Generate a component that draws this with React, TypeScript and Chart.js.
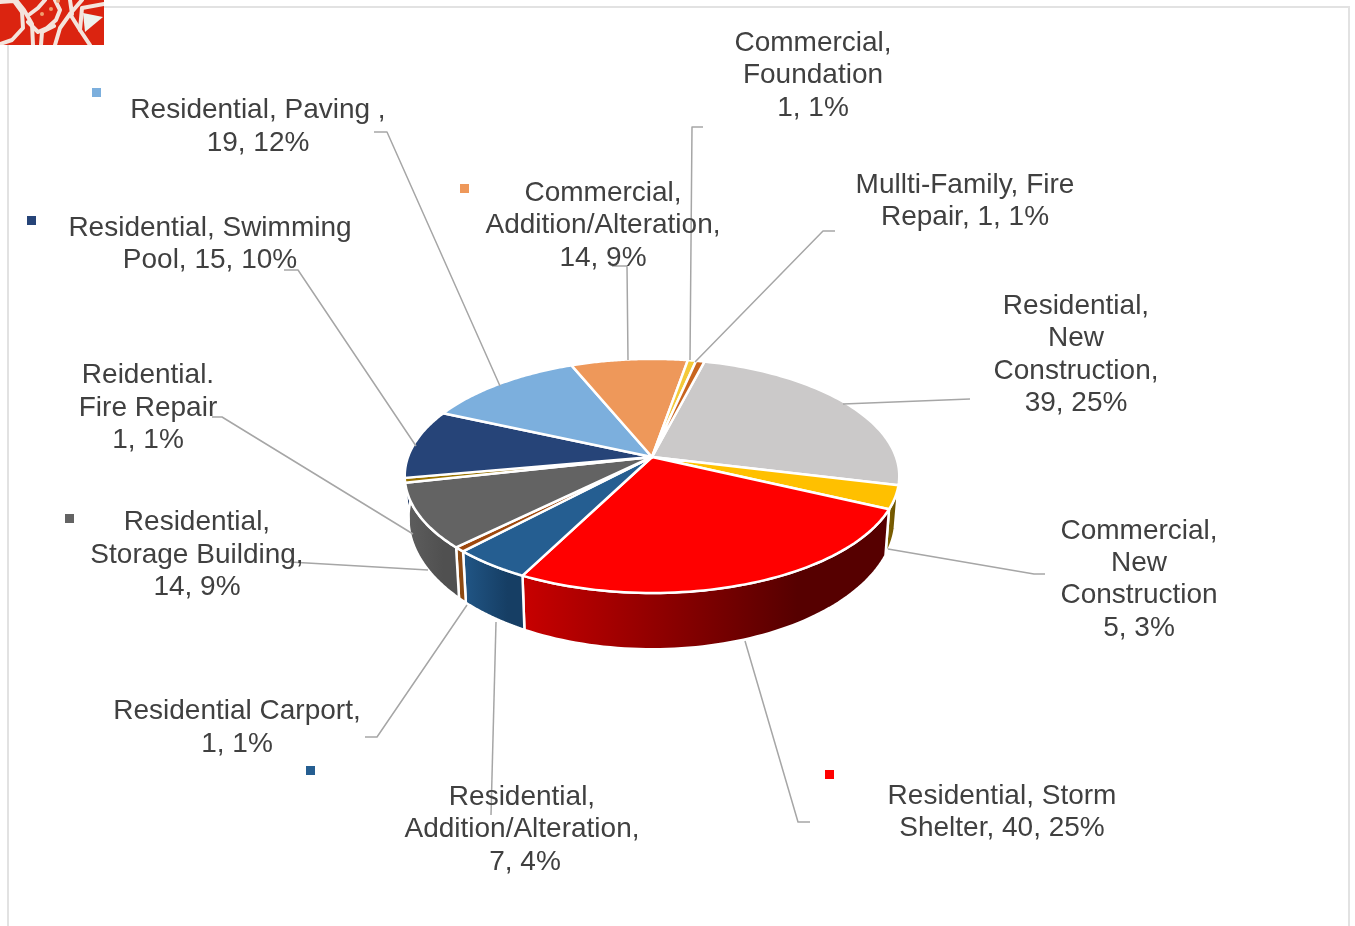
import React, { useEffect, useRef } from "react";
import { Chart, registerables } from "chart.js";

Chart.register(...registerables);

const categories = [
  "Residential, New Construction",
  "Commercial, New Construction",
  "Residential, Storm Shelter",
  "Residential, Addition/Alteration",
  "Residential Carport",
  "Residential, Storage Building",
  "Reidential. Fire Repair",
  "Residential, Swimming Pool",
  "Residential, Paving",
  "Commercial, Addition/Alteration",
  "Commercial, Foundation",
  "Mullti-Family, Fire Repair",
];
const values = [39, 5, 40, 7, 1, 14, 1, 15, 19, 14, 1, 1];
const topColors = ["#CBC9C9", "#FFC000", "#FF0000", "#255E91", "#9E480E", "#636363", "#997300", "#264478", "#7CAFDD", "#EE985A", "#F4C93A", "#C8641E"];
const wallFrom = ["#8a8888", "#7f6000", "#C80000", "#215686", "#8E4A12", "#5E5E5E", "#7f6000", "#1c3560", "#5c86ad", "#b07040", "#b09020", "#94481a"];
const wallTo = ["#8a8888", "#6a5200", "#560000", "#163E64", "#8E4A12", "#505050", "#7f6000", "#1c3560", "#5c86ad", "#b07040", "#b09020", "#94481a"];

type Label = { lines: string[]; cx: number; ys: number[]; leader: number[][]; marker?: number[]; lastCx?: number };
const labels: Label[] = [
  { lines: ["Residential,", "New", "Construction,", "39, 25%"], cx: 1076, ys: [304, 336, 369, 401], leader: [[970, 399], [843, 404]] },
  { lines: ["Commercial,", "New", "Construction", "5, 3%"], cx: 1139, ys: [529, 561, 593, 626], leader: [[1045, 574], [1034, 574], [888, 549]] },
  { lines: ["Residential, Storm", "Shelter, 40, 25%"], cx: 1002, ys: [794, 826], leader: [[810, 822], [798, 822], [745, 641]], marker: [825, 770] },
  { lines: ["Residential,", "Addition/Alteration,", "7, 4%"], cx: 522, lastCx: 525, ys: [795, 827, 860], leader: [[491, 815], [496, 622]], marker: [306, 766] },
  { lines: ["Residential Carport,", "1, 1%"], cx: 237, ys: [709, 742], leader: [[365, 737], [377, 737], [467, 605]] },
  { lines: ["Residential,", "Storage Building,", "14, 9%"], cx: 197, ys: [520, 553, 585], leader: [[290, 562], [428, 570]], marker: [65, 514] },
  { lines: ["Reidential.", "Fire Repair", "1, 1%"], cx: 148, ys: [373, 406, 438], leader: [[212, 417], [222, 417], [413, 534]] },
  { lines: ["Residential, Swimming", "Pool, 15, 10%"], cx: 210, ys: [226, 258], leader: [[284, 270], [298, 270], [416, 446]], marker: [27, 216] },
  { lines: ["Residential, Paving ,", "19, 12%"], cx: 258, ys: [108, 141], leader: [[374, 132], [387, 132], [500, 386]], marker: [92, 88] },
  { lines: ["Commercial,", "Addition/Alteration,", "14, 9%"], cx: 603, ys: [191, 223, 256], leader: [[612, 266], [627, 266], [628, 360]], marker: [460, 184] },
  { lines: ["Commercial,", "Foundation", "1, 1%"], cx: 813, ys: [41, 73, 106], leader: [[703, 127], [692, 127], [690, 360]] },
  { lines: ["Mullti-Family, Fire", "Repair, 1, 1%"], cx: 965, ys: [183, 215], leader: [[835, 231], [823, 231], [695, 362]] },
];

const PERSP = 0.162;
const TOP_Y = 0.467;
const BASE_DROP = 40;
const BASE_Y = 0.523;
const BASE_X = 0.985;
const TEXT_DY = 2;

function project(a: any, t: number, base: boolean) {
  const u = Math.cos(t);
  const v = Math.sin(t);
  const w = 1 - PERSP * v;
  const r = a.outerRadius;
  return {
    x: a.x + (r * u * (base ? BASE_X : 1)) / w,
    y: a.y + (base ? BASE_DROP : 0) + (r * (base ? BASE_Y : TOP_Y) * v) / w,
  };
}

function drawLogo(ctx: CanvasRenderingContext2D) {
  ctx.save();
  ctx.beginPath();
  ctx.rect(0, 0, 104, 45);
  ctx.clip();
  ctx.fillStyle = "#DB2410";
  ctx.fillRect(0, 0, 104, 45);
  ctx.strokeStyle = "#F4E4DC";
  ctx.lineCap = "round";
  ctx.lineJoin = "round";
  ctx.lineWidth = 4;
  const paths = [
    [[0, 2], [14, 1], [22, 12], [23, 28], [12, 40], [0, 44]],
    [[16, 0], [24, 10], [32, 24], [33, 45]],
    [[45, 0], [38, 8], [30, 14]],
    [[28, 22], [38, 32], [47, 28], [56, 20], [60, 10], [55, 0]],
    [[41, 45], [42, 32], [54, 26]],
    [[70, 14], [60, 28], [55, 45]],
    [[82, 0], [70, 14], [80, 30], [90, 45]],
    [[70, 0], [72, 14]],
    [[104, 4], [82, 8], [80, 30]],
  ];
  for (const p of paths) {
    ctx.beginPath();
    p.forEach(([x, y], i) => (i ? ctx.lineTo(x, y) : ctx.moveTo(x, y)));
    ctx.stroke();
  }
  ctx.fillStyle = "#EEF3EE";
  ctx.beginPath();
  ctx.moveTo(83, 13);
  ctx.lineTo(103, 17);
  ctx.lineTo(85, 32);
  ctx.closePath();
  ctx.fill();
  ctx.fillStyle = "#F0A070";
  [[58, 1], [42, 14], [51, 9]].forEach(([x, y]) => {
    ctx.beginPath();
    ctx.arc(x, y, 2, 0, Math.PI * 2);
    ctx.fill();
  });
  ctx.restore();
}

const pie3d = {
  id: "pie3d",
  beforeDatasetsDraw(chart: any) {
    const ctx: CanvasRenderingContext2D = chart.ctx;
    const arcs = chart.getDatasetMeta(0).data;
    const N = 64;

    ctx.save();
    // frame and logo
    ctx.strokeStyle = "#E2E2E2";
    ctx.lineWidth = 2;
    ctx.beginPath();
    ctx.moveTo(8, 926);
    ctx.lineTo(8, 7);
    ctx.lineTo(1349, 7);
    ctx.lineTo(1349, 926);
    ctx.stroke();
    drawLogo(ctx);

    // side walls, front half only
    arcs.forEach((a: any, i: number) => {
      const s = a.startAngle;
      const e = a.endAngle;
      const front = [];
      for (let k = 0; k <= N; k++) {
        const t = s + ((e - s) * k) / N;
        if (Math.sin(t) >= -0.03) front.push(t);
      }
      if (front.length < 2) return;
      const t0 = project(a, front[0], false);
      const t1 = project(a, front[front.length - 1], false);
      const grad = ctx.createLinearGradient(Math.min(t0.x, t1.x), 0, Math.max(t0.x, t1.x), 0);
      grad.addColorStop(0, wallFrom[i]);
      grad.addColorStop(0.75, wallTo[i]);
      grad.addColorStop(1, wallTo[i]);
      ctx.beginPath();
      front.forEach((t, k) => {
        const p = project(a, t, false);
        k ? ctx.lineTo(p.x, p.y) : ctx.moveTo(p.x, p.y);
      });
      [...front].reverse().forEach((t) => {
        const p = project(a, t, true);
        ctx.lineTo(p.x, p.y);
      });
      ctx.closePath();
      ctx.fillStyle = grad;
      ctx.strokeStyle = "#FFFFFF";
      ctx.lineWidth = 2.5;
      ctx.fill();
      ctx.stroke();
    });

    // top faces
    arcs.forEach((a: any) => {
      const s = a.startAngle;
      const e = a.endAngle;
      ctx.beginPath();
      ctx.moveTo(a.x, a.y);
      for (let k = 0; k <= N; k++) {
        const p = project(a, s + ((e - s) * k) / N, false);
        ctx.lineTo(p.x, p.y);
      }
      ctx.closePath();
      ctx.fillStyle = a.options.backgroundColor;
      ctx.strokeStyle = "#FFFFFF";
      ctx.lineWidth = 2.5;
      ctx.lineJoin = "round";
      ctx.fill();
      ctx.stroke();
    });

    // leader lines run over the pie's white edge, and under the text
    ctx.strokeStyle = "#A6A6A6";
    ctx.lineWidth = 1.5;
    labels.forEach((l) => {
      ctx.beginPath();
      l.leader.forEach(([x, y], i) => (i ? ctx.lineTo(x, y) : ctx.moveTo(x, y)));
      ctx.stroke();
    });

    // labels and markers
    ctx.fillStyle = "#404040";
    ctx.font = '28px "Liberation Sans"';
    ctx.textAlign = "center";
    ctx.textBaseline = "middle";
    labels.forEach((l) => {
      l.lines.forEach((line, k) => {
        const x = k === l.lines.length - 1 && l.lastCx ? l.lastCx : l.cx;
        ctx.fillText(line, x, l.ys[k] + TEXT_DY);
      });
    });
    labels.forEach((l, i) => {
      if (l.marker) {
        ctx.fillStyle = topColors[i];
        ctx.fillRect(l.marker[0], l.marker[1], 9, 9);
      }
    });
    ctx.restore();
    return false;
  },
};

export default function App() {
  const ref = useRef<HTMLCanvasElement>(null);
  useEffect(() => {
    document.body.style.margin = "0";
    document.body.style.background = "#fff";
    const chart = new Chart(ref.current!, {
      type: "pie",
      data: {
        labels: categories,
        datasets: [{ data: values, backgroundColor: topColors, borderColor: "#FFFFFF", borderWidth: 0 }],
      },
      options: {
        responsive: false,
        animation: false,
        rotation: 14.4,
        layout: { padding: { left: 408, right: 459, top: 213, bottom: 225 } },
        plugins: { legend: { display: false }, tooltip: { enabled: false }, title: { display: false } },
      },
      plugins: [pie3d as any],
    });
    return () => chart.destroy();
  }, []);
  return <canvas ref={ref} width={1355} height={926} style={{ display: "block" }} />;
}
